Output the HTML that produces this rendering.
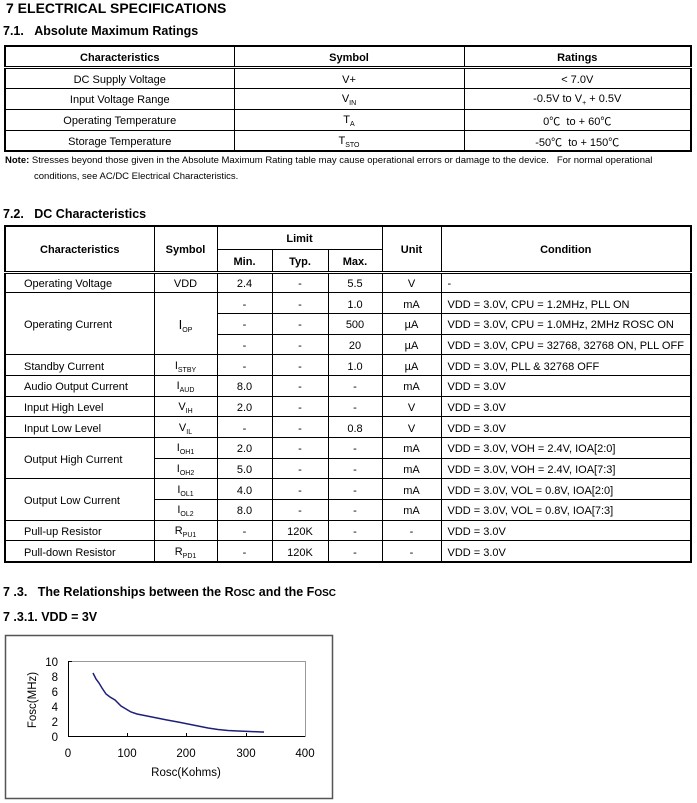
<!DOCTYPE html>
<html><head><meta charset="utf-8"><style>
*{margin:0;padding:0;box-sizing:border-box}
body{width:697px;height:803px;background:#fff;position:relative;font-family:"Liberation Sans",Arial,"Noto Sans CJK SC",sans-serif;color:#000;overflow:hidden}
.a{position:absolute;white-space:nowrap}
h1{position:absolute;font-size:14px;font-weight:bold}
.h2{position:absolute;font-size:12.5px;font-weight:bold}
table{position:absolute;border-collapse:collapse;font-size:11px;table-layout:fixed}
td,th{border:1px solid #000;text-align:center;vertical-align:middle;padding:3px 0 0 0;white-space:nowrap;overflow:hidden}
th{font-weight:bold}
sub{font-size:7px;vertical-align:-3px}
.l{text-align:left;padding-left:18px}
.c{text-align:left;padding-left:6px}
.t1,.t2{border:2px solid #000}
.hb th{border-bottom:3px double #000}
</style></head><body>
<h1 style="left:6px;top:0px">7 ELECTRICAL SPECIFICATIONS</h1>
<div class="h2" style="left:3px;top:24px">7.1.&nbsp;&nbsp;&nbsp;Absolute Maximum Ratings</div>

<table class="t1" style="left:4px;top:45px;width:688px">
<colgroup><col style="width:229px"><col style="width:230px"><col></colgroup>
<tr class="hb" style="height:21px"><th>Characteristics</th><th>Symbol</th><th>Ratings</th></tr>
<tr style="height:21px"><td>DC Supply Voltage</td><td>V+</td><td>&lt; 7.0V</td></tr>
<tr style="height:21px"><td>Input Voltage Range</td><td>V<sub>IN</sub></td><td>-0.5V to V<sub>+</sub> + 0.5V</td></tr>
<tr style="height:21px"><td>Operating Temperature</td><td>T<sub>A</sub></td><td>0℃ &nbsp;to + 60℃</td></tr>
<tr style="height:20px"><td>Storage Temperature</td><td>T<sub>STO</sub></td><td>-50℃ &nbsp;to + 150℃</td></tr>
</table>
<div class="a" style="left:5px;top:155px;font-size:9.5px"><b>Note:</b> Stresses beyond those given in the Absolute Maximum Rating table may cause operational errors or damage to the device.&nbsp;&nbsp; For normal operational</div>
<div class="a" style="left:34px;top:171px;font-size:9.5px">conditions, see AC/DC Electrical Characteristics.</div>

<div class="h2" style="left:3px;top:207px">7.2.&nbsp;&nbsp;&nbsp;DC Characteristics</div>
<table class="t2" style="left:4px;top:225px;width:688px">
<colgroup><col style="width:149px"><col style="width:63px"><col style="width:55px"><col style="width:56px"><col style="width:54px"><col style="width:59px"><col></colgroup>
<tr style="height:23px"><th rowspan="2" style="border-bottom:3px double #000">Characteristics</th><th rowspan="2" style="border-bottom:3px double #000">Symbol</th><th colspan="3">Limit</th><th rowspan="2" style="border-bottom:3px double #000">Unit</th><th rowspan="2" style="border-bottom:3px double #000">Condition</th></tr>
<tr class="hb" style="height:23px"><th>Min.</th><th>Typ.</th><th>Max.</th></tr>
<tr style="height:20.7px"><td class="l">Operating Voltage</td><td>VDD</td><td>2.4</td><td>-</td><td>5.5</td><td>V</td><td class="c">-</td></tr>
<tr style="height:20.7px"><td class="l" rowspan="3">Operating Current</td><td rowspan="3" style="font-size:13px">I<sub>OP</sub></td><td>-</td><td>-</td><td>1.0</td><td>mA</td><td class="c">VDD = 3.0V, CPU = 1.2MHz, PLL ON</td></tr>
<tr style="height:20.7px"><td>-</td><td>-</td><td>500</td><td>µA</td><td class="c">VDD = 3.0V, CPU = 1.0MHz, 2MHz ROSC ON</td></tr>
<tr style="height:20.7px"><td>-</td><td>-</td><td>20</td><td>µA</td><td class="c">VDD = 3.0V, CPU = 32768, 32768 ON, PLL OFF</td></tr>
<tr style="height:20.7px"><td class="l">Standby Current</td><td>I<sub>STBY</sub></td><td>-</td><td>-</td><td>1.0</td><td>µA</td><td class="c">VDD = 3.0V, PLL &amp; 32768 OFF</td></tr>
<tr style="height:20.7px"><td class="l">Audio Output Current</td><td>I<sub>AUD</sub></td><td>8.0</td><td>-</td><td>-</td><td>mA</td><td class="c">VDD = 3.0V</td></tr>
<tr style="height:20.7px"><td class="l">Input High Level</td><td>V<sub>IH</sub></td><td>2.0</td><td>-</td><td>-</td><td>V</td><td class="c">VDD = 3.0V</td></tr>
<tr style="height:20.7px"><td class="l">Input Low Level</td><td>V<sub>IL</sub></td><td>-</td><td>-</td><td>0.8</td><td>V</td><td class="c">VDD = 3.0V</td></tr>
<tr style="height:20.7px"><td class="l" rowspan="2">Output High Current</td><td>I<sub>OH1</sub></td><td>2.0</td><td>-</td><td>-</td><td>mA</td><td class="c">VDD = 3.0V, VOH = 2.4V, IOA[2:0]</td></tr>
<tr style="height:20.7px"><td>I<sub>OH2</sub></td><td>5.0</td><td>-</td><td>-</td><td>mA</td><td class="c">VDD = 3.0V, VOH = 2.4V, IOA[7:3]</td></tr>
<tr style="height:20.7px"><td class="l" rowspan="2">Output Low Current</td><td>I<sub>OL1</sub></td><td>4.0</td><td>-</td><td>-</td><td>mA</td><td class="c">VDD = 3.0V, VOL = 0.8V, IOA[2:0]</td></tr>
<tr style="height:20.7px"><td>I<sub>OL2</sub></td><td>8.0</td><td>-</td><td>-</td><td>mA</td><td class="c">VDD = 3.0V, VOL = 0.8V, IOA[7:3]</td></tr>
<tr style="height:20.7px"><td class="l">Pull-up Resistor</td><td>R<sub>PU1</sub></td><td>-</td><td>120K</td><td>-</td><td>-</td><td class="c">VDD = 3.0V</td></tr>
<tr style="height:20.7px"><td class="l">Pull-down Resistor</td><td>R<sub>PD1</sub></td><td>-</td><td>120K</td><td>-</td><td>-</td><td class="c">VDD = 3.0V</td></tr>
</table>

<div class="h2" style="left:3px;top:585px">7 .3.&nbsp;&nbsp;&nbsp;The Relationships between the R<span style="font-size:10px">OSC</span> and the F<span style="font-size:10px">OSC</span></div>
<div class="h2" style="left:3px;top:610px">7 .3.1. VDD = 3V</div>

<svg class="a" style="left:0;top:630px" width="345" height="173" viewBox="0 630 345 173">
<rect x="5.5" y="635.5" width="327" height="163" fill="none" stroke="#555" stroke-width="1.5"/>
<rect x="68.5" y="661.5" width="237" height="75" fill="none" stroke="#999" stroke-width="1"/>
<g stroke="#000" stroke-width="1">
<line x1="68" y1="736.5" x2="305" y2="736.5"/>
<line x1="68.5" y1="661" x2="68.5" y2="737"/>
<line x1="127.5" y1="733" x2="127.5" y2="737"/><line x1="186.5" y1="733" x2="186.5" y2="737"/><line x1="246.5" y1="733" x2="246.5" y2="737"/>
<line x1="68" y1="661.5" x2="72" y2="661.5"/>
</g>
<polyline fill="none" stroke="#1f1f7a" stroke-width="1.5" points="93,673 96,679 99,683 102,688 106,694 110,697 115,700 121,706 126,709 131,712 137,714 147,716 157,718 167,720 178,722 188,724 198,726 208,728 218,729.5 228,730.5 238,731 250,731.5 262,732 264,732"/>
<g font-family="Liberation Sans, Arial, sans-serif" font-size="11.5" fill="#000">
<text x="58" y="666" text-anchor="end">10</text>
<text x="58" y="681" text-anchor="end">8</text>
<text x="58" y="696" text-anchor="end">6</text>
<text x="58" y="711" text-anchor="end">4</text>
<text x="58" y="726" text-anchor="end">2</text>
<text x="58" y="741" text-anchor="end">0</text>
<text x="68" y="757" text-anchor="middle">0</text>
<text x="127" y="757" text-anchor="middle">100</text>
<text x="186" y="757" text-anchor="middle">200</text>
<text x="246" y="757" text-anchor="middle">300</text>
<text x="305" y="757" text-anchor="middle">400</text>
<text x="186" y="776" text-anchor="middle">Rosc(Kohms)</text>
<text transform="translate(36,700) rotate(-90)" text-anchor="middle">Fosc(MHz)</text>
</g>
</svg>
</body></html>
